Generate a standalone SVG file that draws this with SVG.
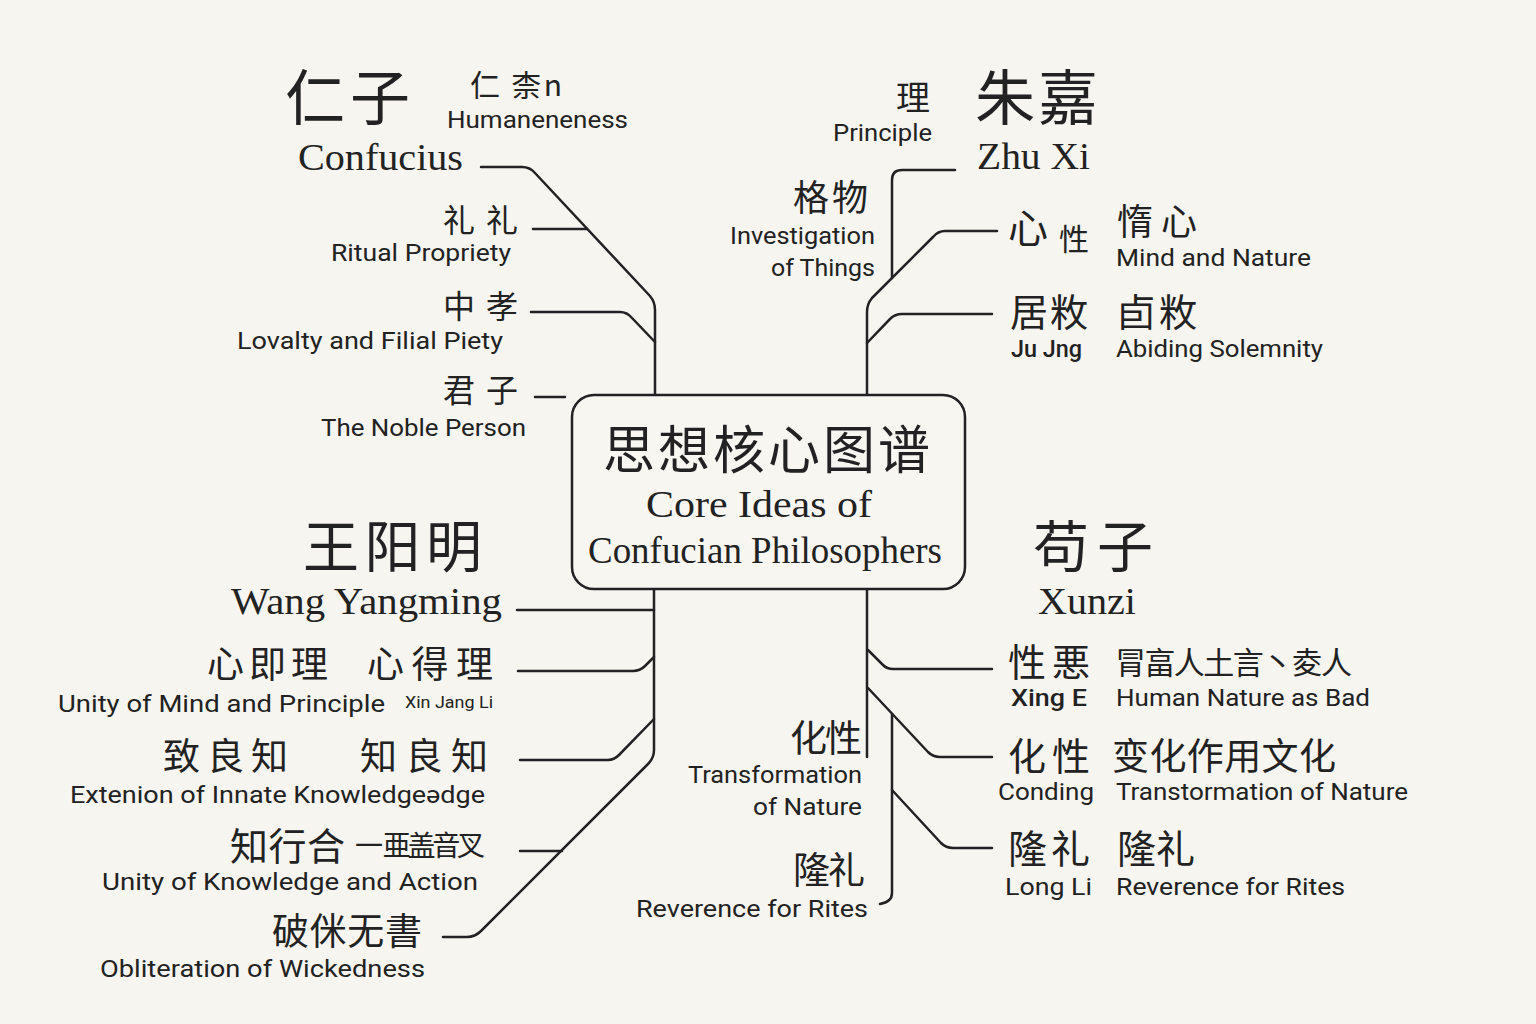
<svg xmlns="http://www.w3.org/2000/svg" width="1536" height="1024" viewBox="0 0 1536 1024">
<style>
.cjk{font-family:"Noto Sans CJK SC","Noto Sans CJK JP",sans-serif;fill:#222}
.sans{font-family:Roboto,"Liberation Sans",sans-serif;fill:#222}
.serif{font-family:"Liberation Serif","DejaVu Serif",serif;fill:#222}
.conn{fill:none;stroke:#222;stroke-width:2.5;stroke-linecap:round;stroke-linejoin:round}
.box{fill:#f8f6f1;stroke:#222;stroke-width:2.5}
</style>
<rect x="0" y="0" width="1536" height="1024" fill="#f7f5f0"/>

<g id="connectors">
  <!-- Confucius branch -->
  <path class="conn" d="M481,167 L522,167 Q530,167 535,173 L650,296 Q655,302 655,310 L655,395"/>
  <path class="conn" d="M533,229 L587,229"/>
  <path class="conn" d="M531,312 L620,312 Q627,312 632,318 L655,342"/>
  <path class="conn" d="M535,397 L565,397"/>
  <!-- Zhu Xi branch -->
  <path class="conn" d="M955,170 L902,170 Q892,170 892,180 L892,278"/>
  <path class="conn" d="M997,231 L945,231 Q938,231 933,237 L872,298 Q867,304 867,312 L867,395"/>
  <path class="conn" d="M992,314 L902,314 Q895,314 890,319 L867,343"/>
  <!-- Wang Yangming branch -->
  <path class="conn" d="M654,590 L654,750 Q654,758 648,764 L481,931 Q475,937 467,937 L443,937"/>
  <path class="conn" d="M517,610 L654,610"/>
  <path class="conn" d="M518,671 L633,671 Q640,671 645,666 L654,657"/>
  <path class="conn" d="M520,760 L608,760 Q614,760 619,755 L654,719"/>
  <path class="conn" d="M520,851 L562,851"/>
  <!-- Xunzi branch -->
  <path class="conn" d="M867,590 L867,757"/>
  <path class="conn" d="M868,650 L883,665 Q887,669 893,669 L992,669"/>
  <path class="conn" d="M868,688 L928,752 Q933,757 940,757 L992,757"/>
  <path class="conn" d="M892,714 L892,893 Q892,902 880,904"/>
  <path class="conn" d="M892,790 L941,843 Q946,848 953,848 L992,848"/>
</g>

<g id="center">
  <rect class="box" x="572" y="395" width="393" height="194" rx="22"/>
  <text class="cjk" x="603" y="469" font-size="52" textLength="327">思想核心图谱</text>
  <text class="serif" x="646" y="517" font-size="38" textLength="226" lengthAdjust="spacingAndGlyphs">Core Ideas of</text>
  <text class="serif" x="588" y="563" font-size="38" textLength="354" lengthAdjust="spacingAndGlyphs">Confucian Philosophers</text>
</g>

<g id="confucius">
  <text class="cjk" x="285" y="120" font-size="60" textLength="125">仁子</text>
  <text class="serif" x="298" y="170" font-size="38" textLength="165" lengthAdjust="spacingAndGlyphs">Confucius</text>
</g>
<g id="humaneness">
  <text class="cjk" x="470" y="96" font-size="30" textLength="92">仁 柰n</text>
  <text class="sans" x="447" y="128" font-size="24" textLength="181" lengthAdjust="spacingAndGlyphs">Humaneneness</text>
</g>
<g id="ritual-propriety">
  <text class="cjk" x="443" y="232" font-size="32" textLength="75">礼 礼</text>
  <text class="sans" x="331" y="261" font-size="24" textLength="180" lengthAdjust="spacingAndGlyphs">Ritual Propriety</text>
</g>
<g id="loyalty">
  <text class="cjk" x="443" y="318" font-size="32" textLength="75">中孝</text>
  <text class="sans" x="237" y="349" font-size="24" textLength="266" lengthAdjust="spacingAndGlyphs">Lovalty and Filial Piety</text>
</g>
<g id="noble-person">
  <text class="cjk" x="443" y="402" font-size="32" textLength="75">君子</text>
  <text class="sans" x="321" y="436" font-size="24" textLength="205" lengthAdjust="spacingAndGlyphs">The Noble Person</text>
</g>

<g id="zhu-xi">
  <text class="cjk" x="975" y="120" font-size="60" textLength="123">朱嘉</text>
  <text class="serif" x="977" y="169" font-size="38" textLength="113" lengthAdjust="spacingAndGlyphs">Zhu Xi</text>
</g>
<g id="principle">
  <text class="cjk" x="896" y="110" font-size="34">理</text>
  <text class="sans" x="833" y="141" font-size="24" textLength="99" lengthAdjust="spacingAndGlyphs">Principle</text>
</g>
<g id="investigation">
  <text class="cjk" x="793" y="211" font-size="36" textLength="75">格物</text>
  <text class="sans" x="730" y="244" font-size="24" textLength="145" lengthAdjust="spacingAndGlyphs">Investigation</text>
  <text class="sans" x="771" y="276" font-size="24" textLength="104" lengthAdjust="spacingAndGlyphs">of Things</text>
</g>
<g id="mind-nature">
  <text class="cjk" x="1008" y="243" font-size="40">心</text>
  <text class="cjk" x="1059" y="250" font-size="30">性</text>
  <text class="cjk" x="1117" y="235" font-size="36" textLength="80">惰心</text>
  <text class="sans" x="1116" y="266" font-size="24" textLength="195" lengthAdjust="spacingAndGlyphs">Mind and Nature</text>
</g>
<g id="abiding-solemnity">
  <text class="cjk" x="1010" y="326" font-size="38" textLength="78">居敉</text>
  <text class="cjk" x="1117" y="326" font-size="38" textLength="80">卣敉</text>
  <text class="sans" x="1011" y="357" font-size="23" font-weight="500" textLength="71" lengthAdjust="spacingAndGlyphs">Ju Jng</text>
  <text class="sans" x="1116" y="357" font-size="24" textLength="207" lengthAdjust="spacingAndGlyphs">Abiding Solemnity</text>
</g>

<g id="wang-yangming">
  <text class="cjk" x="303" y="567" font-size="56" textLength="179">王阳明</text>
  <text class="serif" x="231" y="614" font-size="38" textLength="271" lengthAdjust="spacingAndGlyphs">Wang Yangming</text>
</g>
<g id="mind-principle">
  <text class="cjk" x="207" y="678" font-size="37" textLength="121">心即理</text>
  <text class="cjk" x="367" y="678" font-size="37" textLength="126">心得理</text>
  <text class="sans" x="58" y="712" font-size="24" textLength="327" lengthAdjust="spacingAndGlyphs">Unity of Mind and Principle</text>
  <text class="sans" x="405" y="708" font-size="17" textLength="88" lengthAdjust="spacingAndGlyphs">Xin Jang Li</text>
</g>
<g id="innate-knowledge">
  <text class="cjk" x="163" y="770" font-size="37" textLength="125">致良知</text>
  <text class="cjk" x="360" y="770" font-size="37" textLength="128">知良知</text>
  <text class="sans" x="70" y="803" font-size="24" textLength="415" lengthAdjust="spacingAndGlyphs">Extenion of Innate Knowledgeədge</text>
</g>
<g id="knowledge-action">
  <text class="cjk" x="230" y="860" font-size="38" textLength="115">知行合</text>
  <text class="cjk" x="355" y="856" font-size="28" textLength="130">一 亜盖音叉</text>
  <text class="sans" x="102" y="890" font-size="24" textLength="376" lengthAdjust="spacingAndGlyphs">Unity of Knowledge and Action</text>
</g>
<g id="obliteration">
  <text class="cjk" x="272" y="945" font-size="37" textLength="150">破侎无書</text>
  <text class="sans" x="100" y="977" font-size="24" textLength="325" lengthAdjust="spacingAndGlyphs">Obliteration of Wickedness</text>
</g>

<g id="xunzi">
  <text class="cjk" x="1033" y="567" font-size="56" textLength="120">苟子</text>
  <text class="serif" x="1038" y="614" font-size="38" textLength="98" lengthAdjust="spacingAndGlyphs">Xunzi</text>
</g>
<g id="transformation-left">
  <text class="cjk" x="790" y="752" font-size="37" textLength="72">化性</text>
  <text class="sans" x="688" y="783" font-size="24" textLength="174" lengthAdjust="spacingAndGlyphs">Transformation</text>
  <text class="sans" x="753" y="815" font-size="24" textLength="109" lengthAdjust="spacingAndGlyphs">of Nature</text>
</g>
<g id="reverence-left">
  <text class="cjk" x="793" y="884" font-size="37" textLength="72">隆礼</text>
  <text class="sans" x="636" y="917" font-size="24" textLength="232" lengthAdjust="spacingAndGlyphs">Reverence for Rites</text>
</g>
<g id="nature-bad">
  <text class="cjk" x="1008" y="676" font-size="38" textLength="82">性悪</text>
  <text class="cjk" x="1115" y="674" font-size="31" textLength="237">冐畗人土言丶夌人</text>
  <text class="sans" x="1011" y="706" font-size="23" font-weight="500" textLength="76" lengthAdjust="spacingAndGlyphs">Xing E</text>
  <text class="sans" x="1116" y="706" font-size="24" textLength="254" lengthAdjust="spacingAndGlyphs">Human Nature as Bad</text>
</g>
<g id="transformation-right">
  <text class="cjk" x="1008" y="770" font-size="38" textLength="82">化性</text>
  <text class="cjk" x="1112" y="770" font-size="37" textLength="224">变化作用文化</text>
  <text class="sans" x="998" y="800" font-size="24" textLength="96" lengthAdjust="spacingAndGlyphs">Conding</text>
  <text class="sans" x="1116" y="800" font-size="24" textLength="292" lengthAdjust="spacingAndGlyphs">Transtormation of Nature</text>
</g>
<g id="reverence-right">
  <text class="cjk" x="1008" y="863" font-size="39" textLength="82">隆礼</text>
  <text class="cjk" x="1117" y="863" font-size="39" textLength="78">隆礼</text>
  <text class="sans" x="1005" y="895" font-size="24" textLength="87" lengthAdjust="spacingAndGlyphs">Long Li</text>
  <text class="sans" x="1116" y="895" font-size="24" textLength="229" lengthAdjust="spacingAndGlyphs">Reverence for Rites</text>
</g>
</svg>
